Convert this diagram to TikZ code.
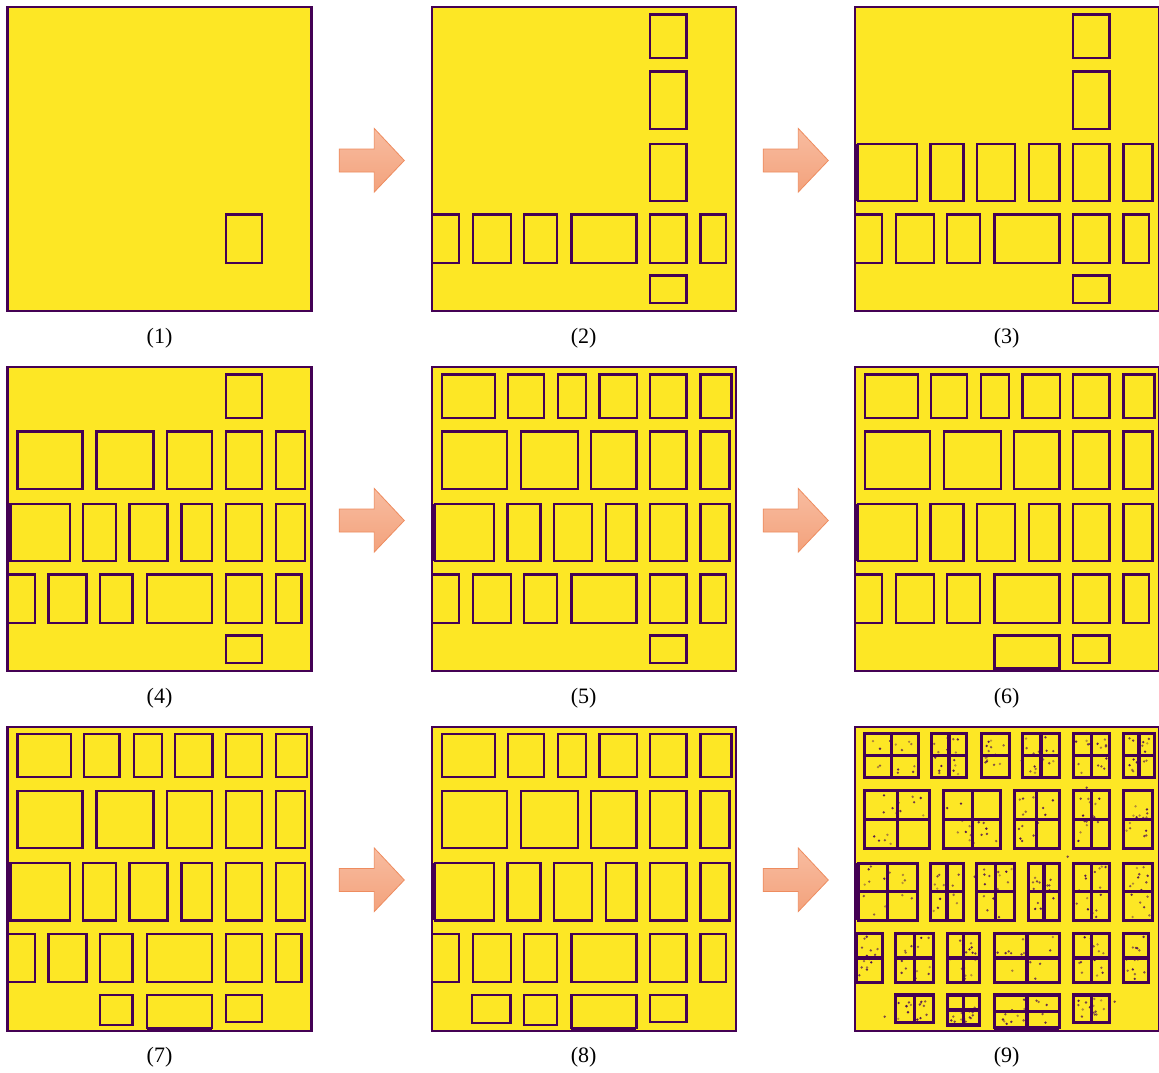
\documentclass[tikz,border=0pt]{standalone}
\usepackage{fontspec}
\setmainfont{Liberation Serif}
\definecolor{vyellow}{RGB}{253,231,37}
\definecolor{dpurple}{RGB}{68,1,84}
\definecolor{arrtop}{RGB}{248,188,160}
\definecolor{arrbot}{RGB}{243,162,124}
\definecolor{arredge}{RGB}{238,140,95}
\tikzset{
  cell/.style={draw=dpurple, line width=2.4pt},
  cellnine/.style={draw=dpurple, line width=3.2pt},
  frame/.style={draw=dpurple, line width=2.2pt},
  arrowst/.style={draw=arredge, line width=0.8pt, top color=arrtop, bottom color=arrbot},
  lab/.style={font=\fontsize{22}{26}\selectfont, inner sep=0pt}
}
\newcommand\panelbg{\fill[vyellow] (0,0) rectangle (304,304);}
\newcommand\panelframe{\draw[frame] (0,0) rectangle (304,304);}
\newcommand\rowAall{\foreach \a/\b in {10/63.4,76.4/112,126.4/154.4,167.7/205,218.4/254.7,268.7/299.7}{\draw[cell] (\a,7) rectangle (\b,50.4);}}
\newcommand\colA{\draw[cell] (218.4,7) rectangle (254.7,50.4);}
\newcommand\rowBall{\foreach \a/\b in {10/75,89/146,159.4/204.7,218.4/254.7,268.7/297.7}{\draw[cell] (\a,64) rectangle (\b,121.4);}}
\newcommand\colB{\draw[cell] (218.4,64) rectangle (254.7,121.4);}
\newcommand\rowCall{\fill[dpurple] (0,136.4) rectangle (3,193.7);\foreach \a/\b in {3/62.4,75.7/108.7,122/160,174/204.7,218.4/254.7,268.7/297.7}{\draw[cell] (\a,136.4) rectangle (\b,193.7);}}
\newcommand\colC{\draw[cell] (218.4,136.4) rectangle (254.7,193.7);}
\newcommand\rowDall{\foreach \a/\b in {0/27.4,41/79,92.4/125,139.7/204.7,218.4/254.7,268.7/294}{\draw[cell] (\a,207) rectangle (\b,255.4);}}
\newcommand\colD{\draw[cell] (218.4,207) rectangle (254.7,255.4);}
\newcommand\cellEfive{\draw[cell] (218.4,268.3) rectangle (254.7,295.4);}
\newcommand\cellEfour{\fill[dpurple] (139.7,300.6) rectangle (204.7,304);\draw[cell] (139.7,268.3) rectangle (204.7,301.2);}
\newcommand\cellEthree{\draw[cell] (92.4,268.3) rectangle (125,298.3);}
\newcommand\cellEtwo{\draw[cell] (40.5,268.3) rectangle (78.7,296);}
% subdivided cell: type 0 = 2x2, 1 = horizontal only, 2 = vertical only
\newcommand\subcell[5]{%
  \draw[cellnine] (#1,#2) rectangle (#3,#4);
  \ifnum#5<2\relax \draw[cellnine] (#1,{(#2+#4)/2}) -- (#3,{(#2+#4)/2});\fi
  \ifnum#5=1\relax\else \draw[cellnine] ({(#1+#3)/2},#2) -- ({(#1+#3)/2},#4);\fi
  \foreach \k in {1,...,15}{%
    \pgfmathsetmacro\px{#1+3+(#3-#1-6)*rnd}%
    \pgfmathsetmacro\py{#2+3+(#4-#2-6)*rnd}%
    \pgfmathsetmacro\op{0.35+0.6*rnd}%
    \fill[dpurple, opacity=\op] (\px,\py) circle (1.3);}
}
\newcommand\bigarrow[2]{\draw[arrowst] (#1,#2-11.5) -- (#1+35,#2-11.5) -- (#1+35,#2-32) -- (#1+65,#2) -- (#1+35,#2+31.5) -- (#1+35,#2+11.5) -- (#1,#2+11.5) -- cycle;}

\begin{document}
\begin{tikzpicture}[x=1pt,y=-1pt]
\pgfmathsetseed{7}
\useasboundingbox (0,0) rectangle (1159,1072);
\fill[white] (0,0) rectangle (1159,1072);

% panel 1
\begin{scope}[shift={(7.5,7.3)}]
  \panelbg \colD \panelframe
\end{scope}
% panel 2
\begin{scope}[shift={(431.7,7.3)}]
  \panelbg \colA \colB \colC \rowDall \cellEfive \panelframe
\end{scope}
% panel 3
\begin{scope}[shift={(854.7,7.3)}]
  \panelbg \colA \colB \rowCall \rowDall \cellEfive \panelframe
\end{scope}
% panel 4
\begin{scope}[shift={(7.5,367.3)}]
  \panelbg \colA \rowBall \rowCall \rowDall \cellEfive \panelframe
\end{scope}
% panel 5
\begin{scope}[shift={(431.7,367.3)}]
  \panelbg \rowAall \rowBall \rowCall \rowDall \cellEfive \panelframe
\end{scope}
% panel 6
\begin{scope}[shift={(854.7,367.3)}]
  \panelbg \rowAall \rowBall \rowCall \rowDall \cellEfour \cellEfive \panelframe
\end{scope}
% panel 7
\begin{scope}[shift={(7.5,726.7)}]
  \panelbg \rowAall \rowBall \rowCall \rowDall \cellEthree \cellEfour \cellEfive \panelframe
\end{scope}
% panel 8
\begin{scope}[shift={(431.7,726.7)}]
  \panelbg \rowAall \rowBall \rowCall \rowDall \cellEtwo \cellEthree \cellEfour \cellEfive \panelframe
\end{scope}
% panel 9
\begin{scope}[shift={(854.7,726.7)}]
  \panelbg
  \subcell{10}{7}{63.4}{50.4}{0}
  \subcell{76.4}{7}{112}{50.4}{0}
  \subcell{126.4}{7}{154.4}{50.4}{1}
  \subcell{167.7}{7}{205}{50.4}{0}
  \subcell{218.4}{7}{254.7}{50.4}{0}
  \subcell{268.7}{7}{299.7}{50.4}{0}
  \subcell{10}{64}{75}{121.4}{0}
  \subcell{89}{64}{146}{121.4}{0}
  \subcell{159.4}{64}{204.7}{121.4}{0}
  \subcell{218.4}{64}{254.7}{121.4}{0}
  \subcell{268.7}{64}{297.7}{121.4}{1}
  \fill[dpurple] (0,136.4) rectangle (3.5,193.7);
  \subcell{3.5}{136.4}{62.4}{193.7}{0}
  \subcell{75.7}{136.4}{108.7}{193.7}{0}
  \subcell{122}{136.4}{160}{193.7}{0}
  \subcell{174}{136.4}{204.7}{193.7}{0}
  \subcell{218.4}{136.4}{254.7}{193.7}{0}
  \subcell{268.7}{136.4}{297.7}{193.7}{1}
  \subcell{1.5}{207}{27.4}{255.4}{1}
  \subcell{41}{207}{79}{255.4}{0}
  \subcell{92.4}{207}{125}{255.4}{0}
  \subcell{139.7}{207}{204.7}{255.4}{0}
  \subcell{218.4}{207}{254.7}{255.4}{0}
  \subcell{268.7}{207}{294}{255.4}{1}
  \subcell{40.5}{268.3}{78.7}{296}{2}
  \subcell{92.4}{268.3}{125}{298.3}{0}
  \fill[dpurple] (139.7,300) rectangle (204.7,304);
  \subcell{139.7}{268.3}{204.7}{301}{0}
  \subcell{218.4}{268.3}{254.7}{295.4}{2}
  \foreach \q/\r in {30/290,100/295,120/150,167/34,232/61,260/275,213/130}{\fill[dpurple,opacity=0.7] (\q,\r) circle (1.3);}
  \panelframe
\end{scope}

% arrows
\bigarrow{339.3}{160.5}
\bigarrow{763.3}{160.5}
\bigarrow{339.3}{520.5}
\bigarrow{763.3}{520.5}
\bigarrow{339.3}{880}
\bigarrow{763.3}{880}

% labels
\node[lab] (lab1) at (159.5,338) {(1)};
\node[lab] (lab2) at (583.7,338) {(2)};
\node[lab] (lab3) at (1006.7,338) {(3)};
\node[lab] (lab4) at (159.5,698) {(4)};
\node[lab] (lab5) at (583.7,698) {(5)};
\node[lab] (lab6) at (1006.7,698) {(6)};
\node[lab] (lab7) at (159.5,1057) {(7)};
\node[lab] (lab8) at (583.7,1057) {(8)};
\node[lab] (lab9) at (1006.7,1057) {(9)};
\end{tikzpicture}
\end{document}
